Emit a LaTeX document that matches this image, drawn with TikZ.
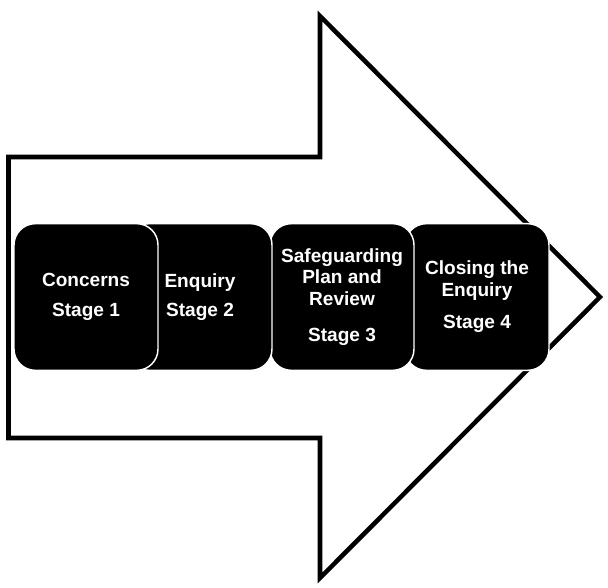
\documentclass[tikz,border=0pt]{standalone}
\usepackage{fontspec}
\setsansfont{Liberation Sans}

\begin{document}
\begin{tikzpicture}[
    x=0.75pt, y=-0.75pt,
    arrow style/.style={line width=3.4pt, black, line join=miter},
    stage style/.style={rectangle, rounded corners=16pt, fill=black, draw=white, line width=1.1pt,
        minimum width=108pt, minimum height=110pt, inner sep=2pt, text=white, align=center,
        font=\sffamily\bfseries\fontsize{14.3pt}{16.2pt}\selectfont}
]
\useasboundingbox (0,0) rectangle (608,587);

% Draw the big arrow
\draw[arrow style] (8.5,157) -- (320,157) -- (320,16) -- (600,297) -- (320,578) -- (320,438) -- (8.5,438) -- cycle;

% Draw the stages (last one first, so each one lies over the next)
\node[stage style] (stage4) at (477,297) {Closing the\\Enquiry\\[8pt]Stage 4};
\node[stage style] (stage3) at (342,297) {Safeguarding\\Plan and\\Review\\[11pt]Stage 3};
\node[stage style] (stage2) at (200,297) {Enquiry\\[6pt]Stage 2};
\node[stage style] (stage1) at (86,297) {Concerns\\[6pt]Stage 1};
\end{tikzpicture}
\end{document}
